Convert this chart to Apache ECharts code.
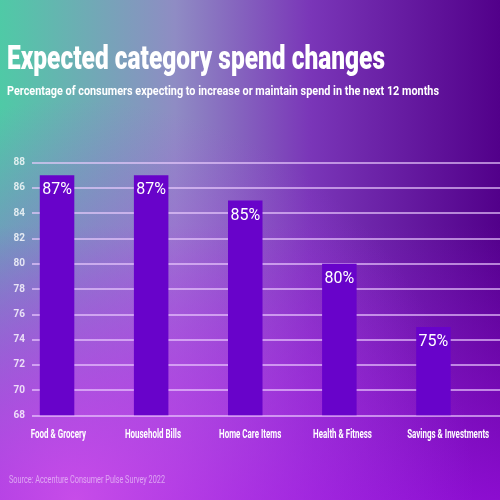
<!DOCTYPE html>
<html>
<head>
<meta charset="utf-8">
<script src="https://cdn.jsdelivr.net/npm/echarts@6/dist/echarts.min.js"></script>
<style>
  html, body { margin: 0; padding: 0; }
  #main { width: 500px; height: 500px; }
</style>
</head>
<body>
<div id="main"></div>
<script>
var categories = ['Food & Grocery', 'Household Bills', 'Home Care Items', 'Health & Fitness', 'Savings & Investments'];
var spendValues = [87, 87, 85, 80, 75];
var yMin = 68, yMax = 88, yStep = 2;

var titleText = 'Expected category spend changes';
var subText = 'Percentage of consumers expecting to increase or maintain spend in the next 12 months';
var sourceText = 'Source: Accenture Consumer Pulse Survey 2022';

var fam = 'Roboto, "Liberation Sans", sans-serif';
var barW = 34.5;

// the original uses a condensed face, so squeeze texts to their measured width
var ctx = document.createElement('canvas').getContext('2d');
function textW(t, f) {
    ctx.font = f;
    return ctx.measureText(t).width;
}

function squeezed(id, t, f, x, y, w, fill) {
    return {
        type: 'text', id: id, x: x, y: y, z: 10, silent: true,
        scaleX: w / textW(t, f), scaleY: 1,
        style: {
            text: t, font: f, fill: fill,
            align: 'left', verticalAlign: 'middle',
            textAlign: 'left', textVerticalAlign: 'middle'
        }
    };
}

var titleFont = '900 33px ' + fam;
var subFont = 'bold 12.5px ' + fam;
var srcFont = '10px ' + fam;
var catFont = 'bold 13px ' + fam;

var bgGraphics = [
    {
        type: 'rect', id: 'bgv', z: -20, silent: true,
        shape: {x: 0, y: 0, width: 500, height: 500},
        style: {
            fill: {
                type: 'linear', x: 0, y: 0, x2: 0, y2: 1,
                colorStops: [
                    {offset: 0, color: 'rgba(150,20,220,0)'},
                    {offset: 0.45, color: 'rgba(150,20,220,0)'},
                    {offset: 1, color: 'rgba(150,15,220,0.85)'}
                ]
            }
        }
    },
    {
        type: 'rect', id: 'bgr', z: -10, silent: true,
        shape: {x: 0, y: 0, width: 500, height: 500},
        style: {
            fill: {
                type: 'radial', x: 0.15, y: 1, r: 0.8,
                colorStops: [
                    {offset: 0, color: 'rgba(205,80,235,0.9)'},
                    {offset: 0.55, color: 'rgba(185,65,235,0.45)'},
                    {offset: 1, color: 'rgba(170,60,230,0)'}
                ]
            }
        }
    },
    squeezed('title', titleText, titleFont, 7, 60.5, 378, '#ffffff'),
    squeezed('sub', subText, subFont, 7, 92.3, 432, '#ffffff'),
    squeezed('src', sourceText, srcFont, 9, 480, 156, 'rgba(255,255,255,0.5)')
];

var myChart = echarts.init(document.getElementById('main'));

var option = {
    backgroundColor: {
        type: 'linear', x: 0, y: 0, x2: 1, y2: 0,
        colorStops: [
            {offset: 0, color: '#4fcaa6'},
            {offset: 0.35, color: '#8f8cc4'},
            {offset: 0.62, color: '#7a36b8'},
            {offset: 1, color: '#52008a'}
        ]
    },
    graphic: bgGraphics,
    grid: [
        {left: 32, right: 0, top: 162.7, bottom: 84.7, outerBoundsMode: 'none'},
        {left: 10, right: 19.5, top: 162.7, bottom: 84.7, outerBoundsMode: 'none'}
    ],
    xAxis: [
        {gridIndex: 0, type: 'value', show: false},
        {
            gridIndex: 1, type: 'category', data: categories,
            axisLine: {show: false}, axisTick: {show: false},
            axisLabel: {show: false}
        }
    ],
    yAxis: [
        {
            gridIndex: 0, type: 'value', min: yMin, max: yMax, interval: yStep,
            axisLine: {show: false}, axisTick: {show: false},
            axisLabel: {color: 'rgba(255,255,255,0.8)', fontFamily: fam, fontWeight: 'bold', fontSize: 10, margin: 7},
            splitLine: {lineStyle: {color: 'rgba(235,205,255,0.85)', width: 1.5}}
        },
        {
            gridIndex: 1, type: 'value', min: yMin, max: yMax, interval: yStep,
            show: false, splitLine: {show: false}
        }
    ],
    series: [
        {
            type: 'bar', xAxisIndex: 1, yAxisIndex: 1,
            data: spendValues, barWidth: barW,
            itemStyle: {color: '#6803ca'},
            label: {
                show: true, position: 'insideTop', distance: 7,
                formatter: '{c}%', color: '#ffffff', fontSize: 16, fontFamily: fam
            }
        }
    ]
};

myChart.setOption(option);

// category names sit left-aligned just left of each bar, as in the original
var catScale = 82 / textW('Savings & Investments', catFont);
var catGraphics = categories.map(function (c, i) {
    var cx = myChart.convertToPixel({xAxisIndex: 1}, c);
    var g = squeezed('cat' + i, c, catFont, cx - barW / 2 - 9, 435, 1, '#ffffff');
    g.scaleX = catScale;
    return g;
});
myChart.setOption({graphic: bgGraphics.concat(catGraphics)});
</script>
</body>
</html>
